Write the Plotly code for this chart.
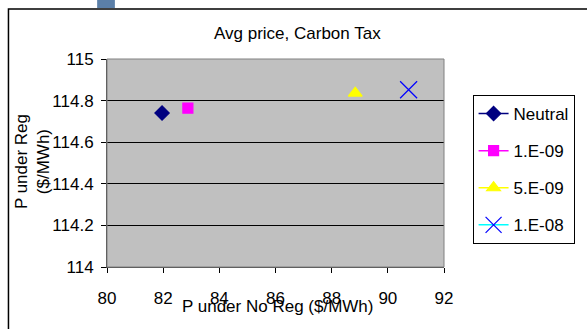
import plotly.graph_objects as go

# Average price under regulation vs. without regulation, per carbon tax level
series_names = ["Neutral", "1.E-09", "5.E-09", "1.E-08"]
p_no_reg = [81.96, 82.88, 88.84, 90.74]
p_reg = [114.74, 114.764, 114.836, 114.852]

x_ticks = [80, 82, 84, 86, 88, 90, 92]
y_ticks = [114, 114.2, 114.4, 114.6, 114.8, 115]
y_tick_text = ["114", "114.2", "114.4", "114.6", "114.8", "115"]

line_colors = ["#000080", "#FF00FF", "#FFFF00", "#00FFFF"]
marker_colors = ["#000080", "#FF00FF", "#FFFF00", "#0000FF"]
marker_symbols = ["diamond", "square", "triangle-up", "x-thin-open"]
marker_sizes = [11, 10, 12, 17]

W, H = 587, 329
L, R, T, B = 107, 138, 59, 62
PW, PH = W - L - R, H - T - B


def px(x):
    return (x - L) / PW


def py(y):
    return (H - B - y) / PH


fig = go.Figure()
for i, name in enumerate(series_names):
    fig.add_trace(go.Scatter(
        x=[p_no_reg[i]], y=[p_reg[i]], name=name, mode="lines+markers",
        legendgroup=name,
        line=dict(color=line_colors[i], width=1.5),
        marker=dict(symbol=marker_symbols[i], size=marker_sizes[i],
                    color=marker_colors[i],
                    line=dict(color=marker_colors[i], width=1.2)),
    ))

font = dict(family="Liberation Sans, Arial, sans-serif", color="black")
fs = 17

fig.update_layout(
    width=W, height=H,
    margin=dict(l=L, r=R, t=T, b=B),
    paper_bgcolor="white", plot_bgcolor="#C0C0C0",
    font=dict(size=fs, **font),
    showlegend=True,
    legend=dict(x=px(478), y=py(95), xanchor="left", yanchor="top",
                bordercolor="black", borderwidth=1, bgcolor="white",
                font=dict(size=fs, **font), tracegroupgap=12,
                itemsizing="trace"),
    xaxis=dict(range=[80, 92], tickvals=x_ticks, showgrid=False,
               zeroline=False, ticks="outside", ticklen=5, tickcolor="black",
               showline=True, linecolor="#404040", linewidth=1,
               ticklabelstandoff=11, tickfont=dict(size=fs, **font)),
    yaxis=dict(range=[114, 115], tickvals=y_ticks, ticktext=y_tick_text,
               showgrid=True, gridcolor="black", gridwidth=1, zeroline=False,
               ticks="outside", ticklen=5, tickcolor="black",
               showline=True, linecolor="#404040", linewidth=1,
               ticklabelstandoff=4, tickfont=dict(size=fs, **font)),
    shapes=[
        # outer chart frame
        dict(type="rect", xref="paper", yref="paper", layer="below",
             x0=px(7), x1=px(600), y0=py(340), y1=py(9),
             line=dict(color="black", width=1.5), fillcolor="rgba(0,0,0,0)"),
        # plot area border
        dict(type="rect", xref="paper", yref="paper", layer="above",
             x0=0, x1=1, y0=0, y1=1,
             line=dict(color="#808080", width=1), fillcolor="rgba(0,0,0,0)"),
        # small tab at the top edge
        dict(type="rect", xref="paper", yref="paper", layer="above",
             x0=px(97), x1=px(115), y0=py(8), y1=py(-2),
             line=dict(width=0), fillcolor="#5B7FA8"),
    ],
    annotations=[
        dict(text="Avg price, Carbon Tax", xref="paper", yref="paper",
             x=px(300), y=py(33), xanchor="center", yanchor="middle",
             showarrow=False, font=dict(size=fs, **font)),
        dict(text="P under No Reg ($/MWh)", xref="paper", yref="paper",
             x=px(280), y=py(306), xanchor="center", yanchor="middle",
             showarrow=False, font=dict(size=fs, **font)),
        dict(text="P under Reg<br>($/MWh)", xref="paper", yref="paper",
             x=px(31), y=py(162), xanchor="center", yanchor="middle",
             showarrow=False, textangle=-90,
             font=dict(size=fs, **font)),
    ],
)

fig.write_html("out.html")
